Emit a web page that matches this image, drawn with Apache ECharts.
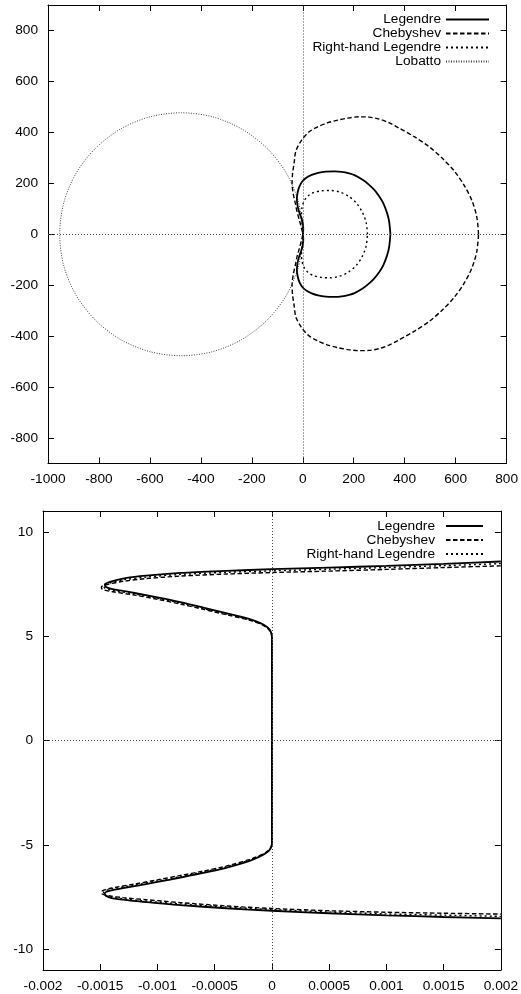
<!DOCTYPE html>
<html>
<head>
<meta charset="utf-8">
<script src="https://cdn.jsdelivr.net/npm/echarts@6/dist/echarts.min.js"></script>
<style>
  html, body { margin: 0; padding: 0; background: #fff; }
  #chart { width: 521px; height: 994px; }
</style>
</head>
<body>
<div id="chart"></div>
<script>
// Tick positions for both panels
const topXTicks = [-1000, -800, -600, -400, -200, 0, 200, 400, 600, 800];
const topYTicks = [-800, -600, -400, -200, 0, 200, 400, 600, 800];
const botXTicks = [-0.002, -0.0015, -0.001, -0.0005, 0, 0.0005, 0.001, 0.0015, 0.002];
const botYTicks = [-10, -5, 0, 5, 10];

// Upper panel: stability boundaries in the complex plane (Re, Im)
const legendreTop = [
  [344, 0], [339, 50], [331, 83], [315, 124], [299, 150], [280, 175], [256, 198],
  [235, 214], [203, 232], [182, 239], [153, 245], [125, 247], [90, 246], [60, 241],
  [35, 233], [14, 222], [-2, 207], [-13, 188], [-20, 165], [-23, 140], [-21, 115],
  [-15, 90], [-6, 65], [0, 44], [2, 20], [1, 0],
  [2, -20], [0, -44], [-6, -65], [-15, -90], [-21, -115], [-23, -140], [-20, -165],
  [-13, -188], [-2, -207], [14, -221], [35, -232], [60, -240], [90, -245],
  [125, -246], [153, -244], [182, -238], [203, -231], [235, -213], [256, -197],
  [280, -174], [299, -150], [315, -124], [331, -83], [339, -50], [344, 0]
];
const chebyshevTop = [
  [690, 0], [683, 68], [664, 132], [633, 193], [595, 248], [549, 297], [498, 342],
  [439, 382], [374, 419], [338, 438], [300, 452], [260, 460], [219, 461], [178, 456],
  [137, 448], [96, 437], [57, 421], [21, 399], [-7, 366], [-27, 327], [-34, 279],
  [-40, 238], [-42, 198], [-37, 157], [-29, 120], [-22, 86], [-13, 55], [-6, 27], [0, 0],
  [-6, -27], [-13, -55], [-22, -86], [-29, -120], [-37, -157], [-42, -198],
  [-40, -238], [-34, -279], [-27, -325], [-7, -363], [21, -396], [57, -418],
  [96, -434], [137, -445], [178, -453], [219, -457], [260, -456], [300, -449],
  [338, -435], [374, -417], [439, -380], [498, -341], [549, -296], [595, -247],
  [633, -193], [664, -132], [683, -68], [690, 0]
];
const rightLegendreTop = [
  [254, 0], [249, 45], [234, 86], [211, 122], [180, 149], [144, 166], [106, 172],
  [70, 170], [40, 163], [20, 150], [5, 130], [-3, 105], [-5, 80], [-3, 50], [0, 25], [2, 0],
  [0, -25], [-3, -50], [-5, -80], [-3, -105], [5, -130], [20, -149], [40, -162],
  [70, -169], [106, -171], [144, -165], [180, -148], [211, -121], [234, -86],
  [249, -45], [254, 0]
];
const lobattoTop = [
  [0, 0], [-16, 124], [-64, 239], [-140, 337], [-239, 413], [-354, 461],
  [-477, 477], [-600, 461], [-716, 413], [-814, 337], [-890, 239], [-938, 124],
  [-954, 0], [-938, -124], [-890, -239], [-814, -337], [-716, -413],
  [-600, -461], [-477, -477], [-354, -461], [-239, -413], [-140, -337],
  [-64, -239], [-16, -124], [0, 0]
];

// Lower panel: close-up of the boundaries near the imaginary axis
const legendreBot = [
  [0.0020, 8.58], [0.0015, 8.47], [0.0010, 8.37], [0.0005, 8.29], [0.0000, 8.21],
  [-0.0004, 8.13], [-0.0008, 8.03], [-0.0011, 7.90], [-0.00128, 7.78],
  [-0.0014, 7.63], [-0.00146, 7.48], [-0.00145, 7.36], [-0.0014, 7.27],
  [-0.0013, 7.17], [-0.0012, 7.07], [-0.0010, 6.86], [-0.0008, 6.63],
  [-0.0006, 6.37], [-0.0004, 6.10], [-0.0002, 5.83], [-0.0001, 5.63],
  [-0.00004, 5.43], [-0.00001, 5.22], [0.0000, 4.95], [0.0000, 4.50],
  [0.0000, -4.50], [0.0000, -4.95], [-0.00001, -5.15], [-0.00004, -5.35],
  [-0.0001, -5.55], [-0.0002, -5.78], [-0.0004, -6.10], [-0.0006, -6.35],
  [-0.0008, -6.57], [-0.0010, -6.78], [-0.0012, -6.98], [-0.0013, -7.08],
  [-0.0014, -7.18], [-0.00146, -7.32], [-0.00145, -7.44], [-0.0014, -7.55],
  [-0.00125, -7.66], [-0.0010, -7.79], [-0.0008, -7.89], [-0.0004, -8.04],
  [0.0000, -8.16], [0.0005, -8.28], [0.0010, -8.38], [0.0015, -8.46], [0.0020, -8.53]
];
const chebyshevBot = [
  [0.0020, 8.37], [0.0015, 8.29], [0.0010, 8.20], [0.0005, 8.12], [0.0000, 8.05],
  [-0.0004, 7.98], [-0.0008, 7.88], [-0.0011, 7.76], [-0.0013, 7.63],
  [-0.00143, 7.49], [-0.00149, 7.36], [-0.00148, 7.24], [-0.0014, 7.14],
  [-0.0012, 6.97], [-0.0010, 6.77], [-0.0008, 6.54], [-0.0006, 6.29],
  [-0.0004, 6.03], [-0.0002, 5.77], [-0.0001, 5.58], [-0.00004, 5.39],
  [-0.00001, 5.19], [0.0000, 4.92], [0.0000, 4.50],
  [0.0000, -4.50], [0.0000, -4.92], [-0.00001, -5.12], [-0.00004, -5.31],
  [-0.0001, -5.50], [-0.0002, -5.71], [-0.0004, -6.02], [-0.0006, -6.26],
  [-0.0008, -6.47], [-0.0010, -6.68], [-0.0012, -6.88], [-0.0014, -7.07],
  [-0.00148, -7.20], [-0.00149, -7.32], [-0.00143, -7.44], [-0.0013, -7.53],
  [-0.0011, -7.63], [-0.0008, -7.77], [-0.0004, -7.93], [0.0000, -8.05],
  [0.0005, -8.16], [0.0010, -8.23], [0.0015, -8.28], [0.0020, -8.32]
];
const rightLegendreBot = [
  [0.0020, 8.48], [0.0015, 8.38], [0.0010, 8.29], [0.0005, 8.21], [0.0000, 8.13],
  [-0.0004, 8.06], [-0.0008, 7.96], [-0.0011, 7.83], [-0.0013, 7.70],
  [-0.00141, 7.56], [-0.00147, 7.42], [-0.00146, 7.30], [-0.0014, 7.21],
  [-0.0012, 7.02], [-0.0010, 6.82], [-0.0008, 6.59], [-0.0006, 6.33],
  [-0.0004, 6.07], [-0.0002, 5.80], [-0.0001, 5.60], [-0.00004, 5.41],
  [-0.00001, 5.20], [0.0000, 4.93], [0.0000, 4.50],
  [0.0000, -4.50], [0.0000, -4.93], [-0.00001, -5.13], [-0.00004, -5.33],
  [-0.0001, -5.52], [-0.0002, -5.74], [-0.0004, -6.06], [-0.0006, -6.30],
  [-0.0008, -6.52], [-0.0010, -6.73], [-0.0012, -6.93], [-0.0014, -7.12],
  [-0.00147, -7.26], [-0.00147, -7.38], [-0.00141, -7.50], [-0.0013, -7.59],
  [-0.0011, -7.70], [-0.0008, -7.83], [-0.0004, -7.98], [0.0000, -8.10],
  [0.0005, -8.22], [0.0010, -8.31], [0.0015, -8.37], [0.0020, -8.43]
];

const FONT = 'Liberation Sans, Arial, Helvetica, sans-serif';
const FS = 13.7;

const styles = {
  'Legendre': { color: '#000', width: 1.8, type: 'solid' },
  'Chebyshev': { color: '#000', width: 1.4, type: [4.5, 2.5] },
  'Right-hand Legendre': { color: '#000', width: 1.4, type: [2, 3] },
  'Lobatto': { color: '#444', width: 1, type: [1, 1.5] }
};

function curve(name, data, gi) {
  const s = styles[name];
  return {
    type: 'line', name: name, data: data,
    xAxisIndex: gi * 2, yAxisIndex: gi * 2,
    symbol: 'none', smooth: 0.3, clip: true, silent: true, animation: false,
    color: s.color,
    lineStyle: { color: s.color, width: s.width, type: s.type }
  };
}

function zeroLines(gi) {
  return {
    type: 'line', data: [], xAxisIndex: gi * 2, yAxisIndex: gi * 2, symbol: 'none', silent: true,
    markLine: {
      silent: true, symbol: 'none', label: { show: false }, animation: false,
      lineStyle: { color: '#444', width: 1, type: [1, 2] },
      data: [{ xAxis: 0 }, { yAxis: 0 }]
    }
  };
}

const plainNumber = v => String(v);

function xPair(gi, min, max, ticks) {
  const base = {
    type: 'value', gridIndex: gi, min: min, max: max,
    splitLine: { show: false },
    axisLine: { show: true, onZero: false, lineStyle: { color: '#000', width: 1 } },
    axisTick: { show: true, inside: true, length: 6, customValues: ticks, lineStyle: { color: '#000' } }
  };
  return [
    Object.assign({}, base, {
      position: 'bottom',
      axisLabel: { show: true, customValues: ticks, formatter: plainNumber, margin: 9, color: '#000', fontFamily: FONT, fontSize: FS, showMinLabel: true, showMaxLabel: true }
    }),
    Object.assign({}, base, { position: 'top', axisLabel: { show: false } })
  ];
}
function yPair(gi, min, max, ticks) {
  const base = {
    type: 'value', gridIndex: gi, min: min, max: max,
    splitLine: { show: false },
    axisLine: { show: true, onZero: false, lineStyle: { color: '#000', width: 1 } },
    axisTick: { show: true, inside: true, length: 6, customValues: ticks, lineStyle: { color: '#000' } }
  };
  return [
    Object.assign({}, base, {
      position: 'left',
      axisLabel: { show: true, customValues: ticks, formatter: plainNumber, margin: 10, color: '#000', fontFamily: FONT, fontSize: FS }
    }),
    Object.assign({}, base, { position: 'right', axisLabel: { show: false } })
  ];
}

const legendBase = {
  orient: 'vertical', align: 'right', padding: 0,
  itemGap: 0, itemHeight: 10,
  itemStyle: { opacity: 0, color: 'rgba(0,0,0,0)', borderWidth: 0 },
  textStyle: { color: '#000', fontFamily: FONT, fontSize: FS },
  selectedMode: false
};

const chart = echarts.init(document.getElementById('chart'), null, { renderer: 'canvas' });

chart.setOption({
  animation: false,
  backgroundColor: '#fff',
  grid: [
    { left: 48, top: 5, width: 459, height: 458.5 },
    { left: 43, top: 511, width: 459, height: 459 }
  ],
  xAxis: xPair(0, -1000, 800, topXTicks).concat(xPair(1, -0.002, 0.002, botXTicks)),
  yAxis: yPair(0, -900, 900, topYTicks).concat(yPair(1, -11, 11, botYTicks)),
  legend: [
    Object.assign({}, legendBase, {
      right: 31, top: 12.5, itemWidth: 43,
      data: ['Legendre', 'Chebyshev', 'Right-hand Legendre', 'Lobatto']
    }),
    Object.assign({}, legendBase, {
      right: 37, top: 519, itemWidth: 37,
      textStyle: { color: '#000', fontFamily: FONT, fontSize: FS, padding: [0, 6, 0, 0] },
      data: ['Legendre', 'Chebyshev', 'Right-hand Legendre']
    })
  ],
  series: [
    zeroLines(0),
    curve('Lobatto', lobattoTop, 0),
    curve('Right-hand Legendre', rightLegendreTop, 0),
    curve('Chebyshev', chebyshevTop, 0),
    curve('Legendre', legendreTop, 0),
    zeroLines(1),
    curve('Right-hand Legendre', rightLegendreBot, 1),
    curve('Chebyshev', chebyshevBot, 1),
    curve('Legendre', legendreBot, 1)
  ]
});
</script>
</body>
</html>
